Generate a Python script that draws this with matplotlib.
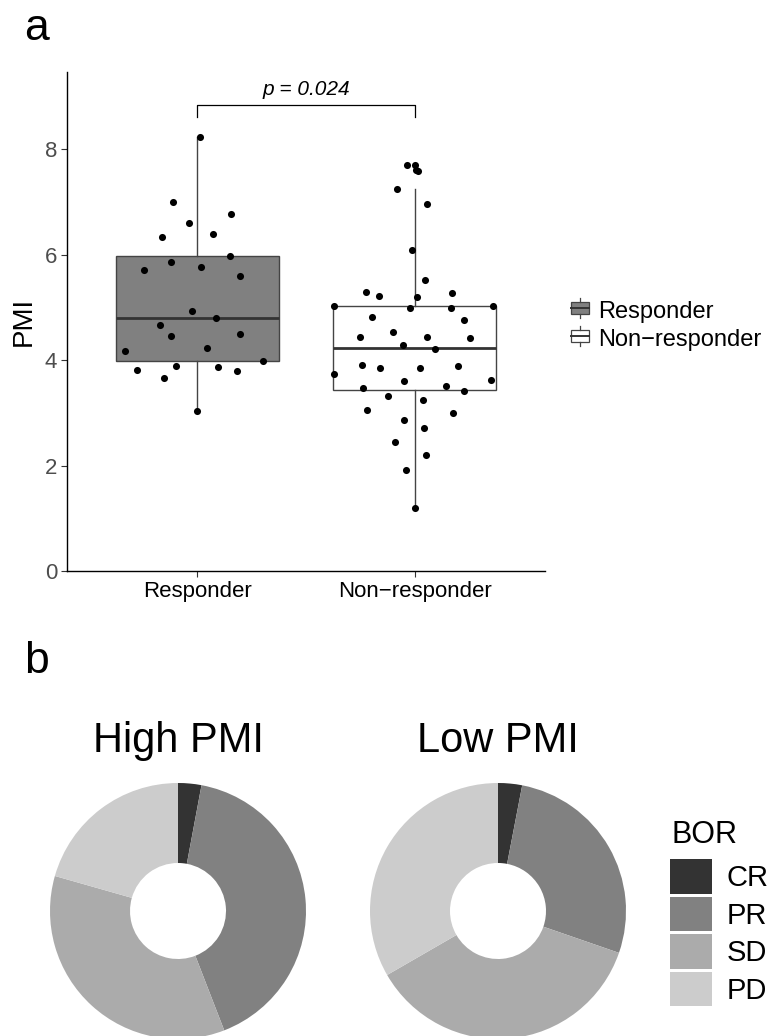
import matplotlib
matplotlib.use("Agg")
import matplotlib.pyplot as plt
from matplotlib.legend_handler import HandlerBase
from matplotlib.patches import Rectangle, Patch
from matplotlib.lines import Line2D

plt.rcParams["font.family"] = ["Liberation Sans", "DejaVu Sans"]

# --- donnees panel a ---
groups = ["Responder", "Non\u2212responder"]
resp_pmi = [8.24, 7.00, 6.77, 6.60, 6.34, 6.39, 5.97, 5.72, 5.87, 5.77, 5.59, 4.93, 4.81,
            4.67, 4.46, 4.49, 4.24, 4.17, 3.98, 3.81, 3.89, 3.87, 3.80, 3.66, 3.04]
resp_jit = [0.01, -0.11, 0.155, -0.04, -0.163, 0.072, 0.152, -0.246, -0.121, 0.017, 0.195,
            -0.026, 0.088, -0.174, -0.12, 0.195, 0.045, -0.332, 0.30, -0.28, -0.10, 0.097,
            0.183, -0.153, 0.0]
nonr_pmi = [7.70, 7.70, 7.61, 7.60, 7.25, 6.96, 6.09, 5.52, 5.29, 5.22, 5.20, 5.28, 5.02,
            5.00, 5.00, 5.02, 4.82, 4.76, 4.54, 4.44, 4.44, 4.43, 4.28, 4.21, 3.90, 3.86,
            3.85, 3.89, 3.73, 3.61, 3.62, 3.48, 3.52, 3.42, 3.33, 3.24, 3.06, 2.99, 2.87,
            2.71, 2.45, 2.20, 1.92, 1.19]
nonr_jit = [-0.035, 0.0, 0.005, 0.017, -0.082, 0.055, -0.011, 0.047, -0.224, -0.165, 0.012,
            0.172, -0.373, -0.023, 0.167, 0.361, -0.197, 0.229, -0.098, -0.253, 0.059, 0.253,
            -0.055, 0.092, -0.24, -0.16, 0.023, 0.2, -0.369, -0.049, 0.35, -0.236, 0.146,
            0.227, -0.124, 0.038, -0.218, 0.175, -0.049, 0.041, -0.092, 0.052, -0.038, 0.0]
# stats des boites (q1, mediane, q3, moustaches)
box_q1 = [3.98, 3.43]
box_med = [4.81, 4.24]
box_q3 = [5.97, 5.02]
box_lo = [3.04, 1.19]
box_hi = [8.24, 7.25]
box_fill = ["#808080", "#ffffff"]
p_label = "p = 0.024"

# --- donnees panel b ---
bor_levels = ["CR", "PR", "SD", "PD"]
bor_colors = ["#333333", "#818181", "#ababab", "#cccccc"]
high_counts = [1, 14, 12, 7]
low_counts = [1, 9, 12, 11]

W, H = 768, 1036
fig = plt.figure(figsize=(W / 100, H / 100), dpi=100)


def px_axes(x0, y0, x1, y1):
    return fig.add_axes([x0 / W, 1 - y1 / H, (x1 - x0) / W, (y1 - y0) / H])


# ---------- panel a ----------
ax = px_axes(67, 72, 545, 571)
edge = "#444444"
stats = [dict(q1=box_q1[i], med=box_med[i], q3=box_q3[i], whislo=box_lo[i],
              whishi=box_hi[i], fliers=[]) for i in range(2)]
bp = ax.bxp(stats, positions=[1, 2], widths=0.75, patch_artist=True, showcaps=False,
            boxprops=dict(edgecolor=edge, linewidth=1.0),
            whiskerprops=dict(color=edge, linewidth=1.0),
            medianprops=dict(color="#333333", linewidth=2.0))
for patch, c in zip(bp["boxes"], box_fill):
    patch.set_facecolor(c)

for pos, vals, jit in [(1, resp_pmi, resp_jit), (2, nonr_pmi, nonr_jit)]:
    ax.scatter([pos + j for j in jit], vals, s=26, color="black", zorder=5, linewidths=0)

# crochet de significativite
yb, yt = 8.62, 8.84
ax.plot([1, 1, 2, 2], [yb, yt, yt, yb], color="black", lw=0.9, clip_on=False)
ax.text(1.5, yt + 0.12, p_label, ha="center", va="bottom", fontsize=15, style="italic")

ax.set_xlim(0.4, 2.6)
ax.set_ylim(0, 9.47)
ax.set_xticks([1, 2])
ax.set_xticklabels(groups, fontsize=16, color="black")
ax.set_yticks([0, 2, 4, 6, 8])
ax.tick_params(axis="y", labelsize=16, labelcolor="#4d4d4d", color="#333333", length=4, pad=3)
ax.tick_params(axis="x", color="#333333", length=4, pad=3)
for s in ["top", "right"]:
    ax.spines[s].set_visible(False)
for s in ["left", "bottom"]:
    ax.spines[s].set_linewidth(1.0)
ax.set_ylabel("PMI", fontsize=20, labelpad=6)


class BoxHandler(HandlerBase):
    def create_artists(self, legend, orig, xd, yd, width, height, fontsize, trans):
        fc = orig.get_facecolor()
        s = min(width, height) * 1.0
        cx = xd + width / 2
        cy = yd + height / 2
        r = Rectangle((cx - s / 2, cy - s * 0.33), s, s * 0.66, facecolor=fc,
                      edgecolor=edge, lw=0.9, transform=trans)
        m = Line2D([cx - s / 2, cx + s / 2], [cy, cy], color="#333333", lw=1.4, transform=trans)
        w1 = Line2D([cx, cx], [cy + s * 0.33, cy + s * 0.55], color=edge, lw=0.9, transform=trans)
        w2 = Line2D([cx, cx], [cy - s * 0.33, cy - s * 0.55], color=edge, lw=0.9, transform=trans)
        return [r, m, w1, w2]


handles = [Patch(facecolor=c) for c in box_fill]
fig.legend(handles, groups, handler_map={Patch: BoxHandler()}, loc="center left",
           bbox_to_anchor=(571 / W, 1 - 326 / H), frameon=False, fontsize=17,
           handlelength=0.8, handleheight=0.8, handletextpad=0.35, labelspacing=0.25,
           borderaxespad=0, borderpad=0)

# ---------- panel b ----------
R = 128
for cx, counts, title in [(178, high_counts, "High PMI"), (498, low_counts, "Low PMI")]:
    axp = px_axes(cx - R, 911 - R, cx + R, 911 + R)
    axp.pie(counts, colors=bor_colors, startangle=90, counterclock=False, radius=1,
            wedgeprops=dict(width=0.625, linewidth=0))
    axp.set_xlim(-1, 1)
    axp.set_ylim(-1, 1)
    axp.set_aspect("equal")
    axp.axis("off")
    fig.text(cx / W, 1 - 752 / H, title, ha="center", va="baseline", fontsize=30)

# legende BOR
fig.text(671 / W, 1 - 843 / H, "BOR", ha="left", va="baseline", fontsize=22)
bor_handles = [Patch(facecolor=c, edgecolor="none") for c in bor_colors]
fig.legend(bor_handles, bor_levels, loc="upper left", bbox_to_anchor=(670 / W, 1 - 859 / H),
           frameon=False, fontsize=21, handlelength=1.45, handleheight=1.45,
           handletextpad=0.5, labelspacing=0.1, borderaxespad=0, borderpad=0)

# lettres de panneau
fig.text(24 / W, 1 - 40 / H, "a", fontsize=32, va="baseline")
fig.text(24 / W, 1 - 673 / H, "b", fontsize=32, va="baseline")

fig.savefig("out.png", dpi=100)
